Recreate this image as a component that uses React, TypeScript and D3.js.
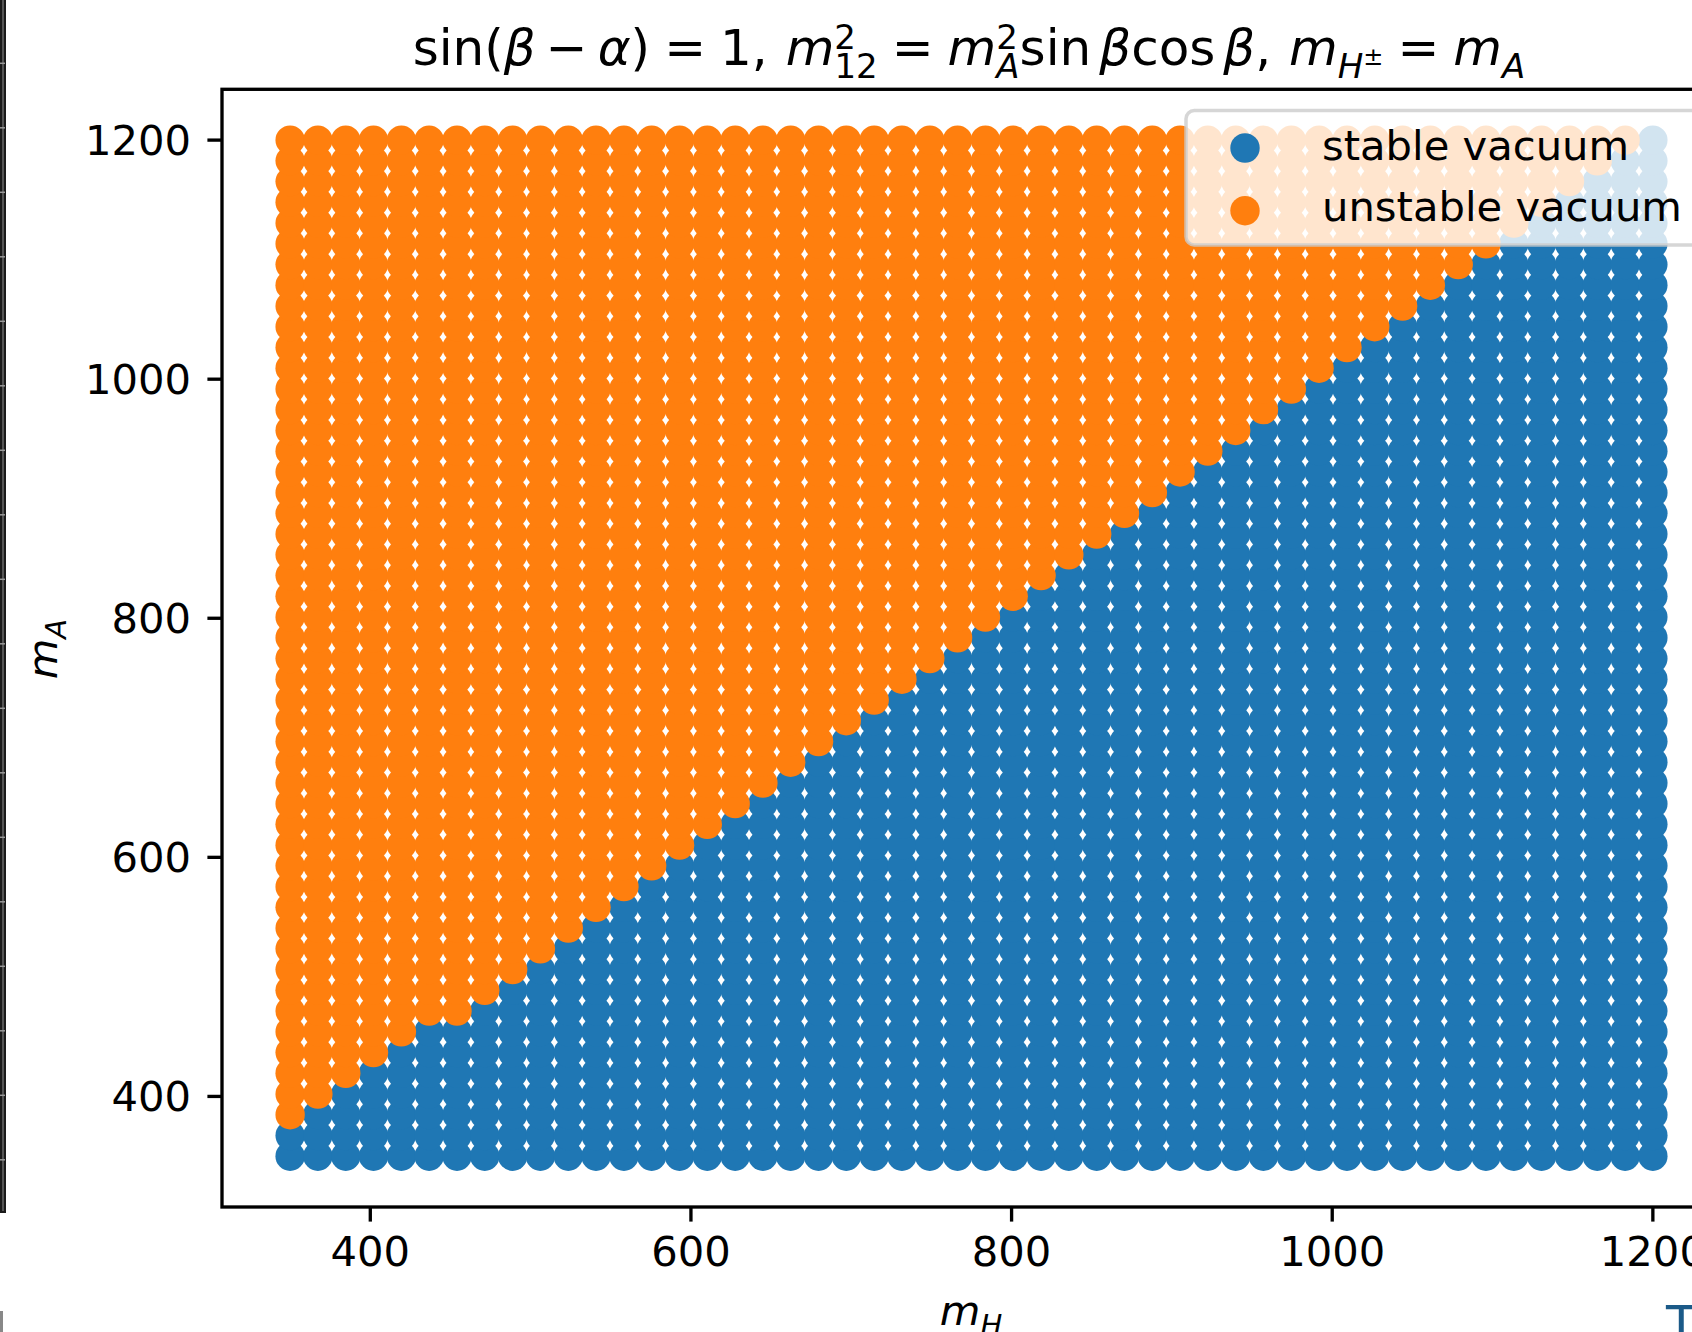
import React from "react";
import { scaleLinear, range } from "d3";

// grid of masses used for both m_H and m_A (GeV)
const massGrid = [
  350.0, 367.3, 384.7, 402.0, 419.4, 436.7, 454.1, 471.4, 488.8, 506.1,
  523.5, 540.8, 558.2, 575.5, 592.9, 610.2, 627.6, 644.9, 662.2, 679.6,
  696.9, 714.3, 731.6, 749.0, 766.3, 783.7, 801.0, 818.4, 835.7, 853.1,
  870.4, 887.8, 905.1, 922.4, 939.8, 957.1, 974.5, 991.8, 1009.2, 1026.5,
  1043.9, 1061.2, 1078.6, 1095.9, 1113.3, 1130.6, 1148.0, 1165.3, 1182.7, 1200.0,
];

// for each m_H column: index of the first m_A row that is unstable
const firstUnstableRow = [
  2, 3, 4, 5, 6, 7, 7, 8, 9, 10, 11, 12, 13, 14, 15, 16, 17, 18, 19, 20,
  21, 22, 23, 24, 25, 26, 27, 28, 29, 30, 31, 32, 33, 34, 35, 36, 37, 38, 39, 40,
  41, 42, 43, 44, 45, 46, 47, 48, 49, 50,
];

const xTicks = [400, 600, 800, 1000, 1200];
const yTicks = [400, 600, 800, 1000, 1200];
const legendLabels = ["stable vacuum", "unstable vacuum"];

const width = 1692, height = 1332;
const blue = "#1f77b4", orange = "#ff7f0e";
const font = "DejaVu Sans";

const x = scaleLinear().domain([307.5, 1242.5]).range([222, 1721]);
const y = scaleLinear().domain([307.5, 1242.5]).range([1207, 89.3]);

// cut-off axis of the neighbouring panel on the far left
const neighbour = scaleLinear().domain([0, 17]).range([1159.8, 63.3]);

const App = () => {
  const stable = [];
  const unstable = [];
  massGrid.forEach((mH, i) => {
    massGrid.forEach((mA, j) => {
      const p = { mH, mA };
      if (j >= firstUnstableRow[i]) unstable.push(p);
      else stable.push(p);
    });
  });

  const r = 14.7;
  const tickLen = 14.6;
  const fs = 41.7;
  const eq = 14;

  return (
    <svg width={width} height={height}
      style={{ position: "absolute", left: 0, top: 0, background: "#fff" }}
      fontFamily={font}>
      <rect x={0} y={0} width={width} height={height} fill="#fff" />

      {/* leftover pieces of neighbouring panels */}
      <rect x={0} y={0} width={6} height={1213} fill="#1a1a1a" />
      <rect x={2} y={0} width={2} height={1211} fill="#555" />
      {range(18).map(k => (
        <line key={k} x1={0} x2={5} y1={neighbour(k)} y2={neighbour(k)} stroke="#999" strokeWidth={1.5} />
      ))}
      <rect x={0} y={1311} width={3} height={21} fill="#888" />
      <text x={1666} y={1341} fontSize={50} fill="#1b5a88">T</text>

      {/* points */}
      {stable.map((d, k) => (
        <circle key={"s" + k} cx={x(d.mH)} cy={y(d.mA)} r={r} fill={blue} />
      ))}
      {unstable.map((d, k) => (
        <circle key={"u" + k} cx={x(d.mH)} cy={y(d.mA)} r={r} fill={orange} />
      ))}

      {/* spines */}
      <rect x={222} y={89.3} width={1721 - 222} height={1207 - 89.3}
        fill="none" stroke="#000" strokeWidth={3.33} />

      {/* x axis */}
      {xTicks.map(t => (
        <g key={t}>
          <line x1={x(t)} x2={x(t)} y1={1207} y2={1207 + tickLen} stroke="#000" strokeWidth={3.33} />
          <text x={x(t)} y={1266} fontSize={fs} textAnchor="middle">{t}</text>
        </g>
      ))}
      {/* y axis */}
      {yTicks.map(t => (
        <g key={t}>
          <line x1={222} x2={222 - tickLen} y1={y(t)} y2={y(t)} stroke="#000" strokeWidth={3.33} />
          <text x={191} y={y(t) + 15} fontSize={fs} textAnchor="end">{t}</text>
        </g>
      ))}

      {/* axis labels */}
      <text x={971} y={1325} fontSize={fs} textAnchor="middle">
        <tspan fontStyle="italic">m</tspan>
        <tspan fontStyle="italic" fontSize={29} dy={10}>H</tspan>
      </text>
      <text transform="translate(57,649) rotate(-90)" fontSize={fs} textAnchor="middle">
        <tspan fontStyle="italic">m</tspan>
        <tspan fontStyle="italic" fontSize={29} dy={9}>A</tspan>
      </text>

      {/* title */}
      <text x={969} y={65} fontSize={50} textAnchor="middle">
        <tspan>sin(</tspan>
        <tspan fontStyle="italic">β</tspan>
        <tspan dx={10}>−</tspan>
        <tspan dx={10} fontStyle="italic">α</tspan>
        <tspan>)</tspan>
        <tspan dx={eq}>=</tspan>
        <tspan dx={eq}>1, </tspan>
        <tspan dx={2} fontStyle="italic">m</tspan>
        <tspan fontSize={34} dy={-16}>2</tspan>
        <tspan fontSize={34} dx={-21.6} dy={29}>12</tspan>
        <tspan dx={eq} dy={-13}>=</tspan>
        <tspan dx={eq} fontStyle="italic">m</tspan>
        <tspan fontSize={34} dy={-16}>2</tspan>
        <tspan fontSize={34} fontStyle="italic" dx={-21.6} dy={29}>A</tspan>
        <tspan dy={-13}>sin</tspan>
        <tspan dx={8} fontStyle="italic">β</tspan>
        <tspan>cos</tspan>
        <tspan dx={8} fontStyle="italic">β</tspan>
        <tspan>, </tspan>
        <tspan dx={2} fontStyle="italic">m</tspan>
        <tspan fontSize={34} fontStyle="italic" dy={13}>H</tspan>
        <tspan fontSize={24} dy={-13}>±</tspan>
        <tspan dx={eq}>=</tspan>
        <tspan dx={eq} fontStyle="italic">m</tspan>
        <tspan fontSize={34} fontStyle="italic" dy={13}>A</tspan>
      </text>

      {/* legend */}
      <rect x={1186} y={110.5} width={514} height={134.5} rx={8.3}
        fill="#fff" fillOpacity={0.8} stroke="#ccc" strokeOpacity={0.8} strokeWidth={3.5} />
      {legendLabels.map((lab, k) => (
        <g key={lab}>
          <circle cx={1245} cy={148 + k * 62.7} r={r} fill={k === 0 ? blue : orange} />
          <text x={1322} y={160 + k * 61} fontSize={fs}>{lab}</text>
        </g>
      ))}
    </svg>
  );
};

export default App;
